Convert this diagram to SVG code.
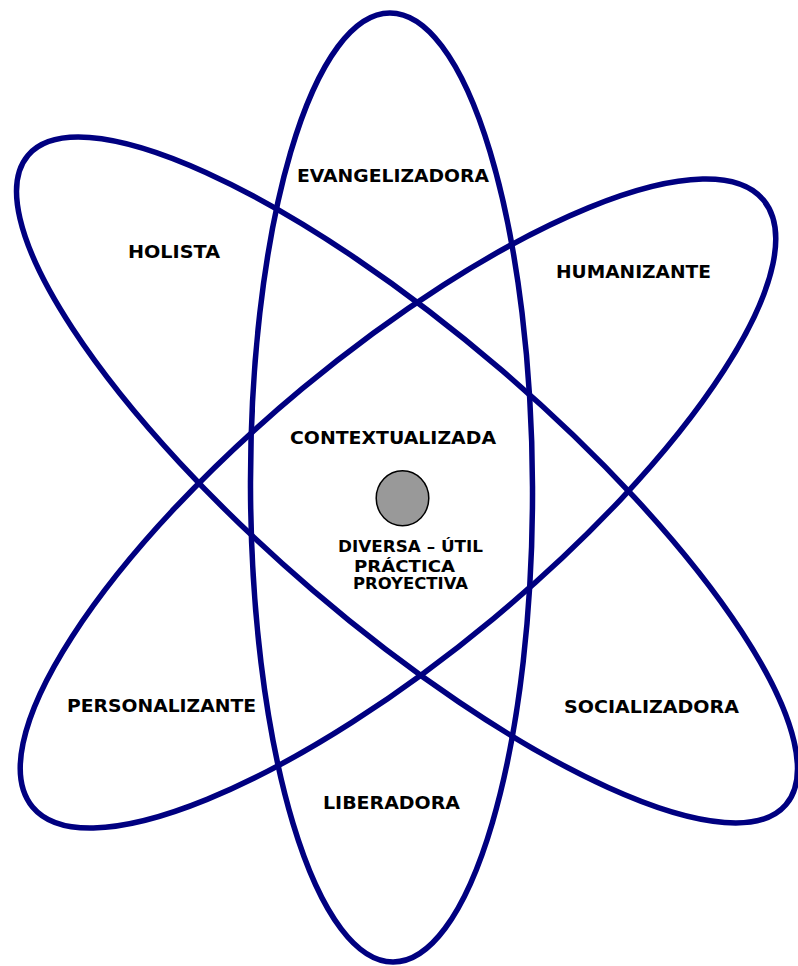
<svg xmlns="http://www.w3.org/2000/svg" width="798" height="966" viewBox="0 0 798 966">
<style>
.orb{fill:none;stroke:#000080;stroke-width:5.5}
.lbl{font-family:"DejaVu Sans",Verdana,sans-serif;font-weight:bold;font-size:17.5px;fill:#000;text-anchor:middle}
.sm{font-size:15px}
</style>
<rect width="798" height="966" fill="#fff"/>
<g id="orbits">
<ellipse id="orbit-vertical" class="orb" cx="0" cy="0" rx="141" ry="474.5" transform="translate(391.5,487.5) rotate(-0.2)"/>
<ellipse id="orbit-holista" class="orb" cx="0" cy="0" rx="499" ry="145" transform="translate(407,480) rotate(40.6)"/>
<ellipse id="orbit-humanizante" class="orb" cx="0" cy="0" rx="475" ry="149.5" transform="translate(398,503.5) rotate(-39.7)"/>
</g>
<g id="nucleus">
<ellipse cx="402.5" cy="498.3" rx="26.3" ry="27.5" fill="#999999" stroke="#000" stroke-width="1.5"/>
</g>
<g id="labels">
<text id="t-evangelizadora" class="lbl" x="393" y="182" textLength="192" lengthAdjust="spacingAndGlyphs">EVANGELIZADORA</text>
<text id="t-holista" class="lbl" x="174" y="258" textLength="92" lengthAdjust="spacingAndGlyphs">HOLISTA</text>
<text id="t-humanizante" class="lbl" x="633.5" y="278" textLength="155" lengthAdjust="spacingAndGlyphs">HUMANIZANTE</text>
<text id="t-contextualizada" class="lbl" x="393" y="444" textLength="206" lengthAdjust="spacingAndGlyphs">CONTEXTUALIZADA</text>
<text id="t-diversa" class="lbl sm" x="410.5" y="552" textLength="145" lengthAdjust="spacingAndGlyphs">DIVERSA – ÚTIL</text>
<text id="t-practica" class="lbl sm" x="404.5" y="571.5" textLength="101" lengthAdjust="spacingAndGlyphs">PRÁCTICA</text>
<text id="t-proyectiva" class="lbl sm" x="410.5" y="589" textLength="115" lengthAdjust="spacingAndGlyphs">PROYECTIVA</text>
<text id="t-personalizante" class="lbl" x="161.5" y="712" textLength="189" lengthAdjust="spacingAndGlyphs">PERSONALIZANTE</text>
<text id="t-socializadora" class="lbl" x="651.5" y="713" textLength="175" lengthAdjust="spacingAndGlyphs">SOCIALIZADORA</text>
<text id="t-liberadora" class="lbl" x="391.5" y="809" textLength="137" lengthAdjust="spacingAndGlyphs">LIBERADORA</text>
</g>
</svg>
